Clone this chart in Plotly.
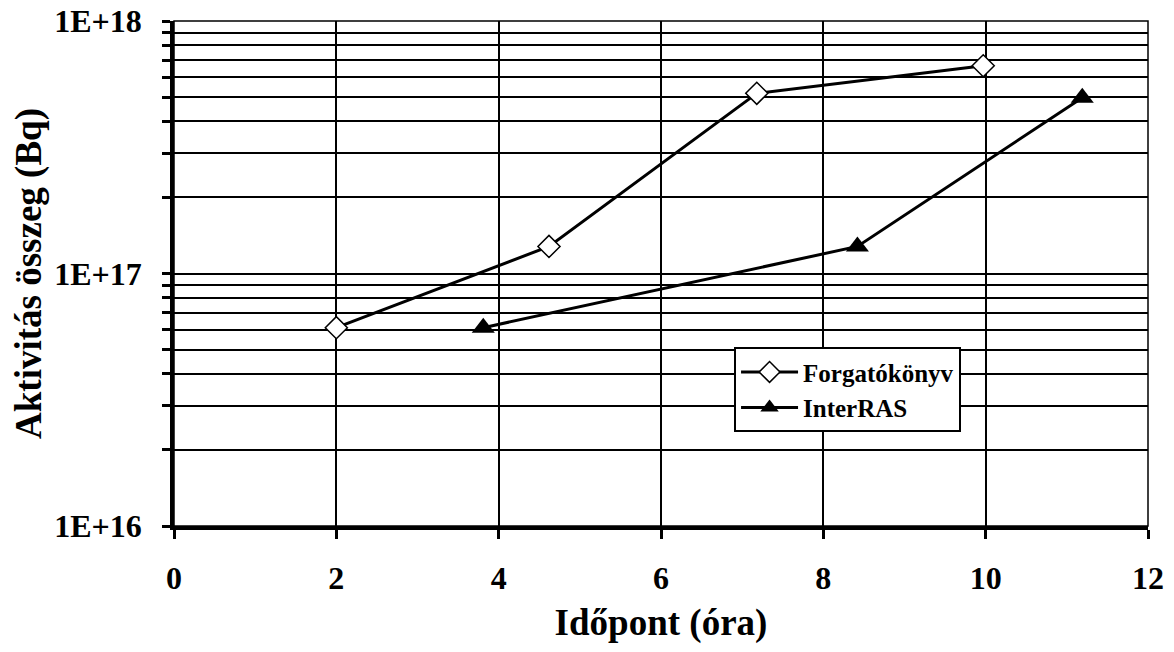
import plotly.graph_objects as go

forg_x = [2.0, 4.62, 7.18, 9.97]
forg_y = [6.1e16, 1.28e17, 5.17e17, 6.65e17]
inter_x = [3.81, 8.42, 11.19]
inter_y = [6.1e16, 1.28e17, 4.97e17]

x_ticks = [0, 2, 4, 6, 8, 10, 12]
y_major = [1e16, 1e17, 1e18]
y_labels = ["1E+16", "1E+17", "1E+18"]
y_minor = [m * 10 ** e for e in (16, 17) for m in range(2, 10)]

FONT = "Liberation Serif"

fig = go.Figure()
fig.add_trace(go.Scatter(
    x=forg_x, y=forg_y, name="Forgatókönyv", mode="lines+markers",
    line=dict(color="black", width=3),
    marker=dict(symbol="diamond", size=17, color="white", line=dict(color="black", width=1.5)),
))
fig.add_trace(go.Scatter(
    x=inter_x, y=inter_y, name="InterRAS", mode="lines+markers",
    line=dict(color="black", width=3),
    marker=dict(symbol="triangle-up", size=20, color="black", line=dict(color="black", width=0)),
))

# page body has an 8px margin, so the figure is sized/offset to fit
fig.update_layout(
    width=1158, height=636,
    margin=dict(l=166, r=18, t=13, b=118),
    paper_bgcolor="white", plot_bgcolor="white",
    font=dict(family=FONT, color="black"),
    showlegend=True,
    legend=dict(
        x=0.575, y=0.354, xanchor="left", yanchor="top",
        bgcolor="white", bordercolor="black", borderwidth=2,
        font=dict(family=FONT, size=25, color="black", weight="bold"),
        itemwidth=57, tracegroupgap=0,
    ),
)

fig.update_xaxes(
    range=[0, 12], tickvals=x_ticks, ticktext=[str(v) for v in x_ticks],
    showgrid=True, gridcolor="black", gridwidth=1.5,
    showline=True, linecolor="black", linewidth=3.5, mirror=False,
    ticks="outside", ticklen=9, tickwidth=3, tickcolor="black",
    tickfont=dict(family=FONT, size=32, color="black", weight="bold"),
    ticklabelstandoff=12, ticklabeloverflow="allow",
    title=dict(text="Időpont (óra)", font=dict(family=FONT, size=37, color="black", weight="bold"), standoff=27),
    zeroline=False, automargin=False,
)
fig.update_yaxes(
    type="log", range=[16, 18],
    tickvals=y_major, ticktext=y_labels,
    showgrid=True, gridcolor="black", gridwidth=1.5,
    showline=True, linecolor="black", linewidth=3.5,
    ticks="outside", ticklen=8, tickwidth=3, tickcolor="black",
    tickfont=dict(family=FONT, size=32, color="black", weight="bold"),
    ticklabelstandoff=14, ticklabeloverflow="allow",
    minor=dict(tickvals=y_minor, ticks="outside", ticklen=8, tickwidth=3, tickcolor="black",
               showgrid=True, gridcolor="black", gridwidth=1.5),
    title=dict(text="Aktivitás összeg (Bq)", font=dict(family=FONT, size=37, color="black", weight="bold"), standoff=28),
    zeroline=False, automargin=False,
)
# thin top/right frame
fig.add_shape(type="rect", xref="paper", yref="paper", x0=0, y0=0, x1=1, y1=1,
              line=dict(color="black", width=1.5), layer="below")

fig.write_html("out.html")
